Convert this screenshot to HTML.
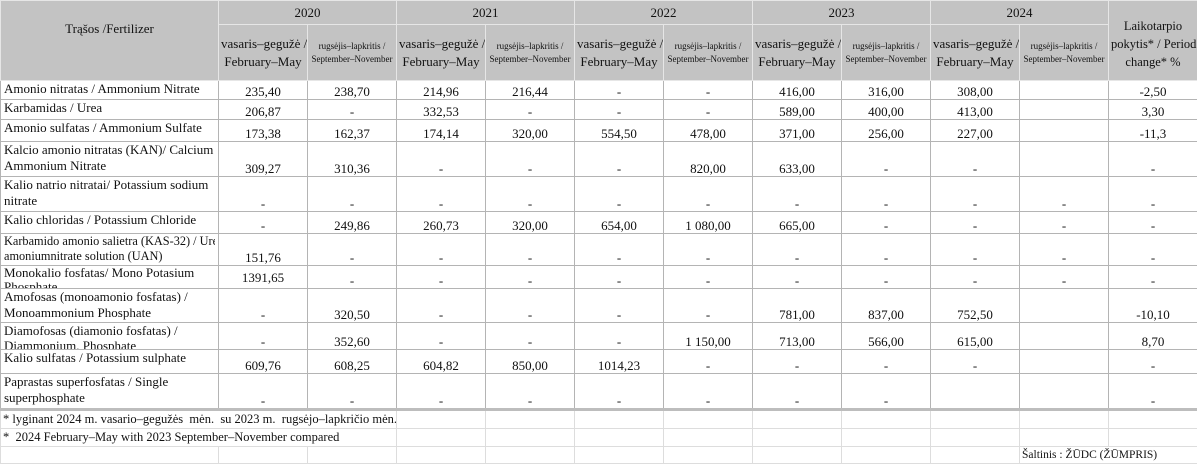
<!DOCTYPE html>
<html><head><meta charset="utf-8"><style>
body{margin:0;width:1197px;height:463px;overflow:hidden;background:#fff;font-family:"Liberation Serif",serif;}
table{border-collapse:collapse;table-layout:fixed;width:1197px;position:absolute;left:0;top:0;}
td{border:1px solid #b4b4b4;padding:0 2px;font-size:13px;color:#111;vertical-align:bottom;text-align:center;overflow:hidden;white-space:nowrap;line-height:15px;}
td.n{text-align:left;vertical-align:top;padding:0 3px;}
td.n div{overflow:hidden;line-height:16px;}
.h td{background:#c3c3c3;border-color:#e6e6e6;vertical-align:middle;font-size:13px;}
.h td.s{font-size:9px;line-height:13px;}
.h td.b{font-size:13px;line-height:18px;}
.f td{border-color:#ddd;text-align:left;vertical-align:middle;font-size:12.5px;}
.sep td{border-top:3px solid #bdbdbd;}
</style></head><body>
<table>
<colgroup><col style="width:218px"><col style="width:89px"><col style="width:89px"><col style="width:89px"><col style="width:89px"><col style="width:89px"><col style="width:89px"><col style="width:89px"><col style="width:89px"><col style="width:89px"><col style="width:89px"><col style="width:89px"></colgroup>
<tr class="h" style="height:24px"><td rowspan="2" style="padding-bottom:24px">Trąšos /Fertilizer</td><td colspan="2">2020</td><td colspan="2">2021</td><td colspan="2">2022</td><td colspan="2">2023</td><td colspan="2">2024</td><td rowspan="2" class="b" style="padding-top:6px;line-height:18px;font-size:12.5px">Laikotarpio<br>pokytis* / Period<br>change* %</td></tr>
<tr class="h" style="height:56px"><td class="b">vasaris–gegužė /<br>February–May</td><td class="s">rugsėjis–lapkritis /<br>September–November</td><td class="b">vasaris–gegužė /<br>February–May</td><td class="s">rugsėjis–lapkritis /<br>September–November</td><td class="b">vasaris–gegužė /<br>February–May</td><td class="s">rugsėjis–lapkritis /<br>September–November</td><td class="b">vasaris–gegužė /<br>February–May</td><td class="s">rugsėjis–lapkritis /<br>September–November</td><td class="b">vasaris–gegužė /<br>February–May</td><td class="s">rugsėjis–lapkritis /<br>September–November</td></tr>
<tr style="height:19px"><td class="n"><div style="height:18px">Amonio nitratas / Ammonium Nitrate</div></td><td>235,40</td><td>238,70</td><td>214,96</td><td>216,44</td><td>-</td><td>-</td><td>416,00</td><td>316,00</td><td>308,00</td><td></td><td>-2,50</td></tr>
<tr style="height:20px"><td class="n"><div style="height:19px">Karbamidas / Urea</div></td><td>206,87</td><td>-</td><td>332,53</td><td>-</td><td>-</td><td>-</td><td>589,00</td><td>400,00</td><td>413,00</td><td></td><td>3,30</td></tr>
<tr style="height:22px"><td class="n"><div style="height:21px">Amonio sulfatas / Ammonium Sulfate</div></td><td>173,38</td><td>162,37</td><td>174,14</td><td>320,00</td><td>554,50</td><td>478,00</td><td>371,00</td><td>256,00</td><td>227,00</td><td></td><td>-11,3</td></tr>
<tr style="height:35px"><td class="n"><div style="height:34px">Kalcio amonio nitratas (KAN)/ Calcium<br>Ammonium Nitrate</div></td><td>309,27</td><td>310,36</td><td>-</td><td>-</td><td>-</td><td>820,00</td><td>633,00</td><td>-</td><td>-</td><td></td><td>-</td></tr>
<tr style="height:35px"><td class="n"><div style="height:34px">Kalio natrio nitratai/ Potassium sodium<br>nitrate</div></td><td>-</td><td>-</td><td>-</td><td>-</td><td>-</td><td>-</td><td>-</td><td>-</td><td>-</td><td>-</td><td>-</td></tr>
<tr style="height:22px"><td class="n"><div style="height:21px">Kalio chloridas / Potassium Chloride</div></td><td>-</td><td>249,86</td><td>260,73</td><td>320,00</td><td>654,00</td><td>1 080,00</td><td>665,00</td><td>-</td><td>-</td><td>-</td><td>-</td></tr>
<tr style="height:32px"><td class="n"><div style="height:31px;line-height:15px;font-size:12.3px">Karbamido amonio salietra (KAS-32) / Urea<br>amoniumnitrate solution (UAN)</div></td><td>151,76</td><td>-</td><td>-</td><td>-</td><td>-</td><td>-</td><td>-</td><td>-</td><td>-</td><td>-</td><td>-</td></tr>
<tr style="height:23px"><td class="n"><div style="height:22px;line-height:14px">Monokalio fosfatas/ Mono Potasium<br>Phosphate</div></td><td style="vertical-align:middle">1391,65</td><td>-</td><td>-</td><td>-</td><td>-</td><td>-</td><td>-</td><td>-</td><td>-</td><td>-</td><td>-</td></tr>
<tr style="height:34px"><td class="n"><div style="height:33px">Amofosas (monoamonio fosfatas) /<br>Monoammonium Phosphate</div></td><td>-</td><td>320,50</td><td>-</td><td>-</td><td>-</td><td>-</td><td>781,00</td><td>837,00</td><td>752,50</td><td></td><td>-10,10</td></tr>
<tr style="height:27px"><td class="n"><div style="height:26px;line-height:15px">Diamofosas (diamonio fosfatas) /<br>Diammonium. Phosphate</div></td><td>-</td><td>352,60</td><td>-</td><td>-</td><td>-</td><td>1 150,00</td><td>713,00</td><td>566,00</td><td>615,00</td><td></td><td>8,70</td></tr>
<tr style="height:24px"><td class="n"><div style="height:23px">Kalio sulfatas / Potassium sulphate</div></td><td>609,76</td><td>608,25</td><td>604,82</td><td>850,00</td><td>1014,23</td><td>-</td><td>-</td><td>-</td><td>-</td><td></td><td>-</td></tr>
<tr style="height:35px"><td class="n"><div style="height:34px">Paprastas superfosfatas / Single<br>superphosphate</div></td><td>-</td><td>-</td><td>-</td><td>-</td><td>-</td><td>-</td><td>-</td><td>-</td><td></td><td></td><td>-</td></tr>
<tr class="f sep" style="height:19px"><td colspan="3">* lyginant 2024 m. vasario–gegužės &nbsp;mėn. &nbsp;su 2023 m. &nbsp;rugsėjo–lapkričio mėn.</td><td></td><td></td><td></td><td></td><td></td><td></td><td></td><td></td><td></td></tr>
<tr class="f" style="height:18px"><td colspan="3">* &nbsp;2024 February–May with 2023 September–November compared</td><td></td><td></td><td></td><td></td><td></td><td></td><td></td><td></td><td></td></tr>
<tr class="f" style="height:17px"><td></td><td></td><td></td><td></td><td></td><td></td><td></td><td></td><td></td><td></td><td colspan="2" style="font-size:11.5px">Šaltinis : ŽŪDC (ŽŪMPRIS)</td></tr>
</table>
</body></html>
